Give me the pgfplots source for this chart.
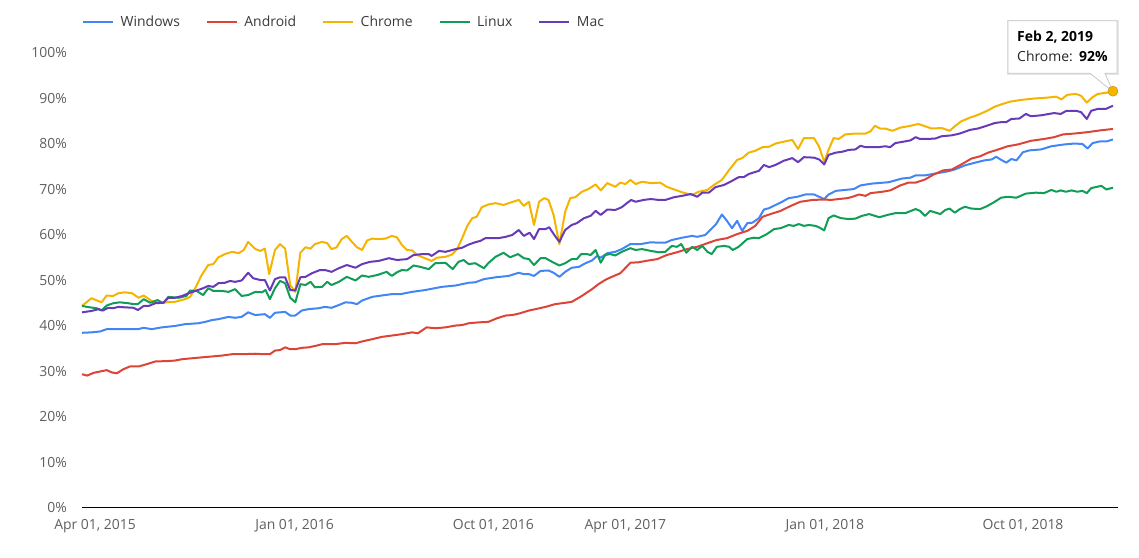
\documentclass[border=0pt]{standalone}
\usepackage{pgfplots}
\pgfplotsset{compat=1.18}
\usepackage{fontspec}
\setmainfont{Open Sans}
\definecolor{cwin}{HTML}{4285F4}
\definecolor{cand}{HTML}{DB4437}
\definecolor{cchr}{HTML}{F4B400}
\definecolor{clin}{HTML}{0F9D58}
\definecolor{cmac}{HTML}{673AB7}
\definecolor{ticktext}{HTML}{5F5F5F}
\definecolor{legtext}{HTML}{3A3A3A}
\definecolor{baseline}{HTML}{333333}
\newcommand{\fs}{\fontsize{14}{16}\selectfont}
\begin{document}
\begin{tikzpicture}[x=1bp,y=1bp]
\path[use as bounding box] (0,0) rectangle (1139,558);
% tooltip
\fill[black,opacity=0.10] (1007,483.2) rectangle (1119,537.8);
\draw[draw=black!22, fill=white, line width=0.8bp] (1008,537.3) -- (1117,537.3) -- (1117,484.7) -- (1105,484.7) -- (1113,466.3) -- (1090,484.7) -- (1008,484.7) -- cycle;
\node[anchor=base west, inner sep=0pt, font=\bfseries\fs, text=black] at (1017,516.3) {Feb 2, 2019};
\node[anchor=base west, inner sep=0pt, font=\fs, text=black!85] at (1017,496.3) {Chrome:\hspace{0.45em}\textbf{\color{black}92\%}};
\begin{axis}[
  at={(82bp,50bp)}, anchor=south west, scale only axis,
  width=1036bp, height=455bp,
  xmin=-18, xmax=1410, ymin=0, ymax=100,
  clip=false,
  axis line style={draw=none},
  major tick length=0pt, tick style={draw=none},
  /pgf/number format/assume math mode=true,
  xtick={0,275,549,731,1006,1279},
  xticklabels={{Apr 01, 2015},{Jan 01, 2016},{Oct 01, 2016},{Apr 01, 2017},{Jan 01, 2018},{Oct 01, 2018}},
  ytick={0,10,20,30,40,50,60,70,80,90,100},
  yticklabels={0\%,10\%,20\%,30\%,40\%,50\%,60\%,70\%,80\%,90\%,100\%},
  xticklabel style={anchor=base, yshift=-22bp, inner sep=0pt, font=\fs, text=ticktext},
  yticklabel style={anchor=base east, xshift=-15bp, yshift=-5bp, inner sep=0pt, font=\fs, text=ticktext},
  every axis plot/.append style={line width=2bp, line join=round, mark=none},
  legend columns=-1,
  legend style={at={(0,1.068)}, anchor=west, draw=none, fill=none, inner sep=0pt,
    font=\fs, text=legtext, nodes={inner sep=0pt},
    /tikz/every odd column/.append style={column sep=6.5bp},
    /tikz/every even column/.append style={column sep=26bp}},
  legend image code/.code={\draw[#1] (0bp,0bp) -- (30bp,0bp);},
]
\draw[baseline, line width=1bp] (axis cs:-18,0) -- (axis cs:1410,0);
\addplot[cwin] table {
x y
-18 38.5
-5 38.6
7 38.8
16 39.3
32 39.3
48 39.3
59 39.3
67 39.6
78 39.3
92 39.7
110 40.0
124 40.4
142 40.6
152 40.9
161 41.3
170 41.5
184 42.0
193 41.8
202 42.0
211 43.0
221 42.4
234 42.6
241 41.8
248 42.9
262 43.1
269 42.3
276 42.3
285 43.4
294 43.7
308 43.9
317 44.2
326 44.0
336 44.6
345 45.2
354 45.1
361 44.8
368 45.6
382 46.4
395 46.7
409 47.0
421 47.0
437 47.5
455 47.9
478 48.6
497 48.9
515 49.5
524 49.6
536 50.3
552 50.7
570 51.0
584 51.7
591 51.4
598 51.4
605 51.0
614 52.1
625 52.2
632 51.7
640 50.8
648 51.9
657 52.8
667 53.0
676 53.8
685 54.4
692 55.4
697 55.0
706 56.0
717 56.3
726 56.9
738 58.0
752 58.0
766 58.4
777 58.3
786 58.3
795 58.9
809 59.4
823 59.8
830 59.6
841 60.0
848 61.1
856 62.4
864 64.5
871 63.1
878 61.5
885 63.1
892 60.9
899 62.6
906 62.7
915 63.7
922 65.6
929 65.9
938 66.6
947 67.3
956 68.1
968 68.4
979 68.9
991 68.9
998 68.4
1005 67.9
1011 68.9
1021 69.7
1034 69.9
1046 70.1
1055 70.9
1071 71.3
1094 71.6
1112 72.4
1124 72.6
1131 73.1
1144 73.1
1158 73.5
1176 74.0
1185 74.4
1199 75.3
1213 75.9
1226 76.4
1236 76.6
1242 77.2
1249 76.5
1256 75.9
1263 76.7
1270 76.4
1279 78.2
1288 78.6
1304 78.8
1318 79.5
1336 79.9
1350 80.1
1361 80.0
1368 79.0
1375 80.2
1386 80.6
1395 80.6
1403 81.0
};
\addlegendentry{Windows}
\addplot[cand] table {
x y
-18 29.4
-11 29.1
-2 29.7
7 30.0
16 30.3
23 29.8
30 29.6
39 30.5
48 31.1
60 31.1
71 31.6
83 32.2
101 32.3
110 32.4
120 32.7
133 32.9
147 33.1
161 33.3
175 33.5
189 33.8
202 33.8
221 33.9
232 33.8
241 33.8
248 34.6
255 34.7
262 35.3
269 34.9
276 34.9
285 35.2
294 35.3
303 35.6
313 36.0
322 36.0
331 36.0
345 36.3
359 36.2
368 36.6
382 37.1
395 37.6
409 37.9
423 38.2
437 38.6
445 38.4
457 39.7
469 39.5
483 39.7
497 40.1
506 40.2
515 40.6
529 40.8
542 40.9
554 41.7
566 42.3
575 42.4
586 42.8
598 43.4
607 43.7
621 44.2
634 44.8
648 45.1
657 45.3
671 46.6
685 48.1
694 49.2
703 50.1
708 50.5
724 51.6
738 53.9
749 54.0
763 54.4
775 54.7
788 55.6
802 56.2
816 56.9
830 57.4
844 58.2
857 58.9
871 59.3
885 60.2
899 60.9
910 62.0
920 64.0
931 64.6
945 65.3
959 66.4
972 67.3
989 67.7
1005 67.8
1014 67.7
1025 67.9
1037 68.1
1044 68.4
1053 68.9
1062 68.6
1069 69.2
1085 69.5
1096 69.8
1110 70.9
1121 71.5
1131 71.5
1144 72.2
1156 73.3
1169 74.2
1181 74.4
1194 75.5
1208 76.8
1220 77.3
1231 78.1
1245 78.8
1258 79.5
1272 79.9
1290 80.7
1308 81.1
1322 81.5
1334 82.1
1350 82.3
1368 82.6
1386 83.0
1403 83.3
};
\addlegendentry{Android}
\addplot[cchr] table {
x y
-18 44.4
-5 46.1
9 45.2
16 46.7
25 46.6
32 47.2
41 47.4
51 47.2
60 46.2
67 46.7
78 45.5
87 45.1
97 45.2
110 45.3
124 45.9
131 46.4
138 48.3
147 51.2
156 53.4
163 53.6
170 55.1
179 55.8
189 56.3
198 56.0
205 56.7
211 58.5
221 56.9
228 56.5
234 57.0
240 51.4
248 56.7
255 58.0
262 57.0
269 49.0
276 47.5
283 56.1
290 57.3
297 57.0
303 58.0
313 58.5
320 58.2
326 56.9
333 57.3
340 59.1
347 59.8
354 58.5
361 57.3
368 56.7
375 58.8
382 59.2
391 59.1
400 59.2
409 59.8
416 59.5
423 57.8
430 56.7
437 56.6
444 55.6
453 55.0
464 54.3
471 55.0
483 55.2
492 55.7
499 56.9
506 59.3
513 62.0
520 63.7
526 64.0
533 66.1
542 66.7
552 67.0
563 66.6
572 67.1
584 67.7
591 66.4
598 67.3
605 62.2
612 67.3
619 68.1
625 67.7
632 64.4
640 58.0
648 65.1
655 68.1
662 68.3
671 69.5
680 70.1
690 71.1
697 69.8
706 71.4
717 70.6
724 71.5
731 71.2
738 72.1
745 71.2
754 71.7
766 71.4
779 71.5
788 70.6
800 69.9
811 69.3
823 68.8
832 69.5
844 69.9
853 71.0
864 72.1
874 74.3
885 76.5
892 76.9
901 78.1
910 78.5
920 79.3
929 79.4
938 80.1
949 80.5
961 80.9
969 78.9
977 81.3
991 81.3
998 79.4
1005 76.1
1011 78.7
1018 81.3
1025 81.1
1034 82.1
1048 82.3
1062 82.3
1069 82.8
1075 84.0
1082 83.4
1089 83.4
1099 82.9
1110 83.6
1121 83.9
1135 84.4
1144 83.9
1153 83.4
1167 83.5
1178 82.9
1185 83.9
1194 85.0
1206 85.8
1217 86.4
1231 87.4
1240 88.2
1249 88.7
1261 89.3
1277 89.7
1295 90.0
1313 90.2
1325 90.4
1332 89.8
1340 90.8
1352 91.0
1359 90.6
1367 89.1
1375 90.3
1382 91.0
1400 91.4
1403 91.6
};
\addlegendentry{Chrome}
\addplot[clin] table {
x y
-18 44.4
-7 44.1
2 43.9
9 43.4
16 44.5
25 45.0
34 45.2
46 45.0
53 44.8
59 44.8
67 45.9
76 45.1
86 45.7
94 45.0
101 46.4
115 46.2
126 46.6
131 47.8
140 47.7
149 46.8
156 48.3
163 47.7
175 47.7
184 47.5
193 48.1
202 46.6
211 46.8
221 47.5
230 47.4
235 47.9
241 45.9
248 48.3
255 49.9
262 49.4
269 46.2
276 45.2
283 49.2
290 49.0
297 49.7
303 48.5
313 48.6
320 49.7
326 49.0
336 49.7
347 50.8
359 50.0
368 51.1
377 50.8
389 51.2
402 51.9
409 51.0
416 51.8
423 52.3
430 52.2
439 53.3
448 53.0
460 52.5
469 53.8
483 53.9
493 52.5
501 54.1
508 54.5
515 53.6
524 53.8
536 52.7
542 53.8
552 55.2
563 56.1
572 55.1
583 55.8
591 54.9
598 54.7
605 53.4
614 54.9
621 54.9
630 54.1
640 53.3
648 53.8
657 54.7
664 54.7
670 55.8
678 55.8
683 55.6
690 56.7
697 53.9
703 55.6
710 55.8
717 55.5
726 56.3
738 57.1
745 56.7
754 56.9
766 56.5
777 56.2
786 56.3
795 57.6
802 57.4
808 58.0
815 56.1
823 57.4
830 56.7
837 57.6
844 56.3
850 55.8
857 57.4
867 57.6
874 57.4
879 56.7
887 57.4
899 59.1
908 59.4
915 59.3
926 60.2
936 61.3
945 61.5
956 62.2
963 62.0
970 62.4
977 62.0
984 62.2
993 62.0
999 61.6
1005 61.0
1011 63.7
1018 64.3
1028 63.7
1039 63.5
1048 63.6
1057 64.2
1067 64.6
1081 63.9
1092 64.4
1103 64.8
1117 64.8
1131 65.7
1137 65.3
1144 64.2
1151 65.3
1165 64.6
1172 65.5
1178 65.8
1185 64.9
1192 65.7
1199 66.2
1208 65.8
1220 65.7
1229 66.3
1238 67.1
1249 68.2
1258 68.4
1270 68.2
1283 69.1
1297 69.3
1308 69.2
1318 69.9
1325 69.5
1331 69.8
1338 69.5
1346 69.8
1354 69.5
1361 69.7
1367 69.2
1373 70.3
1387 70.8
1394 70.0
1403 70.4
};
\addlegendentry{Linux}
\addplot[cmac] table {
x y
-18 43.0
-5 43.3
5 43.7
11 43.4
18 44.0
25 43.9
32 44.2
41 44.1
53 44.0
59 43.5
67 44.4
74 44.4
83 45.0
94 45.1
101 46.2
110 46.2
120 46.6
129 47.2
140 47.8
149 48.3
156 48.8
163 48.6
170 49.4
179 49.5
186 49.9
193 49.7
202 50.0
211 51.7
218 50.5
228 50.1
234 50.1
241 47.8
248 50.3
255 50.7
262 50.7
269 47.9
276 47.8
283 50.7
290 50.8
299 51.6
310 52.3
317 52.3
326 51.9
336 52.7
347 53.4
359 52.8
368 53.6
379 54.1
391 54.3
405 54.9
416 54.5
430 54.7
439 55.6
451 55.8
460 55.8
464 55.4
474 56.5
483 56.3
497 56.9
506 57.2
515 57.9
524 58.4
531 58.7
538 59.3
549 59.3
556 59.3
566 59.6
575 60.0
584 61.1
591 59.8
599 60.5
605 59.1
612 61.3
621 61.3
626 61.7
633 60.0
640 58.5
648 61.1
657 62.2
664 62.6
674 63.7
683 64.2
690 65.3
697 64.4
706 65.6
717 65.5
726 66.1
733 67.0
739 67.7
745 67.3
756 67.7
766 67.9
777 67.7
786 67.7
798 68.3
809 68.6
821 69.0
830 68.4
837 69.3
846 69.3
855 70.5
867 71.0
878 71.9
887 72.7
894 72.7
901 73.4
915 74.1
922 75.4
929 74.9
938 75.4
949 76.3
961 76.9
969 76.0
977 77.1
991 77.0
998 76.6
1005 75.5
1011 77.6
1021 78.1
1030 78.3
1039 78.7
1048 78.8
1055 79.6
1062 79.3
1080 79.3
1089 79.5
1096 79.3
1103 80.2
1114 80.5
1124 80.8
1131 81.5
1137 81.1
1147 81.1
1158 81.2
1167 81.7
1181 81.9
1192 82.3
1206 83.1
1217 83.4
1229 84.0
1240 84.6
1249 84.8
1256 84.8
1263 85.5
1274 85.6
1283 86.6
1290 86.1
1304 86.3
1322 86.8
1331 86.6
1339 87.3
1352 87.3
1359 87.0
1367 85.5
1373 87.3
1382 87.7
1393 87.7
1403 88.4
};
\addlegendentry{Mac}
\addplot[forget plot, only marks, mark=*, mark size=5bp, color=cchr, mark options={draw=cchr!85!black, line width=0.6bp}] coordinates {(1403,91.6)};
\end{axis}
\end{tikzpicture}
\end{document}
